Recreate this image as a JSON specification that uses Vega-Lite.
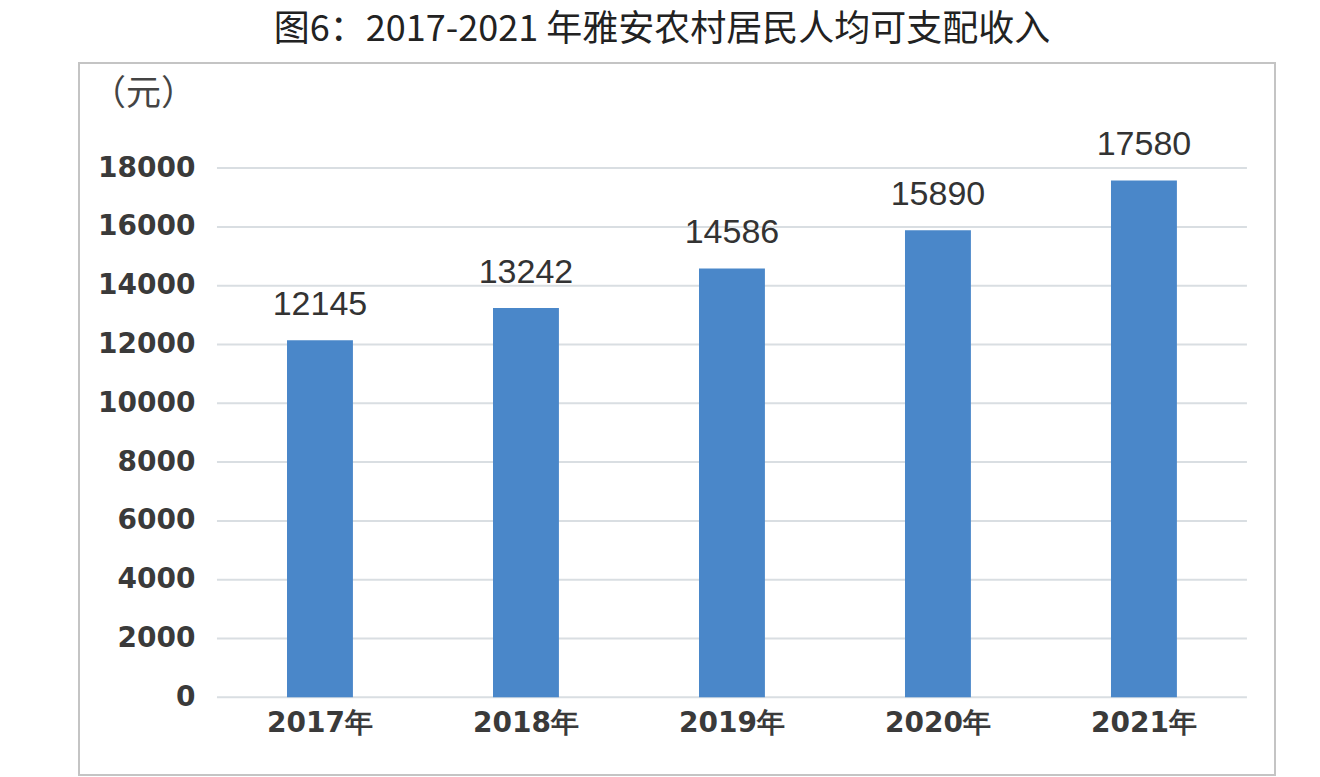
{
  "$schema": "https://vega.github.io/schema/vega-lite/v6.json",
  "width": 1196,
  "height": 712,
  "autosize": {"type": "none"},
  "padding": {"left": 79, "top": 63, "right": 45, "bottom": 2},
  "background": "white",
  "config": {"view": {"stroke": "#c4c4c4", "strokeWidth": 2}},
  "title": {
    "text": "图6：2017-2021 年雅安农村居民人均可支配收入",
    "font": "Noto Sans CJK SC",
    "fontSize": 36,
    "fontWeight": "normal",
    "color": "#222222",
    "anchor": "middle",
    "offset": 14,
    "dx": -15
  },
  "datasets": {
    "income": [
      {"year": "2017年", "value": 12145},
      {"year": "2018年", "value": 13242},
      {"year": "2019年", "value": 14586},
      {"year": "2020年", "value": 15890},
      {"year": "2021年", "value": 17580}
    ],
    "grid": [
      {"v": 0}, {"v": 2000}, {"v": 4000}, {"v": 6000}, {"v": 8000},
      {"v": 10000}, {"v": 12000}, {"v": 14000}, {"v": 16000}, {"v": 18000}
    ]
  },
  "layer": [
    {
      "data": {"name": "grid"},
      "mark": {"type": "rule", "color": "#d9dee2", "strokeWidth": 2},
      "encoding": {
        "y": {
          "field": "v",
          "type": "quantitative",
          "title": "（元）",
          "scale": {"domain": [-2643, 21575], "nice": false, "zero": false},
          "axis": {
            "orient": "left",
            "offset": -126,
            "grid": false,
            "domain": false,
            "ticks": false,
            "values": [0, 2000, 4000, 6000, 8000, 10000, 12000, 14000, 16000, 18000],
            "format": "d",
            "labelFont": "DejaVu Sans",
            "labelFontSize": 28,
            "labelFontWeight": "bold",
            "labelColor": "#3a3a3a",
            "labelPadding": 10,
            "title": "（元）",
            "titleAngle": 0,
            "titleX": -62,
            "titleY": 30,
            "titleAlign": "center",
            "titleBaseline": "middle",
            "titleFont": "Noto Sans CJK SC",
            "titleFontSize": 35,
            "titleFontWeight": "normal",
            "titleColor": "#444444"
          }
        },
        "x": {
          "datum": "2017年",
          "type": "nominal",
          "bandPosition": 0,
          "title": null,
          "scale": {
            "domain": ["2017年", "2018年", "2019年", "2020年", "2021年"],
            "paddingInner": 0,
            "paddingOuter": 0.403,
            "align": 0.831
          }
        },
        "x2": {"datum": "2021年", "bandPosition": 1}
      }
    },
    {
      "data": {"name": "income"},
      "mark": {"type": "bar", "color": "#4a87c9", "width": {"band": 0.32}},
      "encoding": {
        "x": {
          "field": "year",
          "type": "nominal",
          "title": null,
          "axis": {
            "orient": "bottom",
            "offset": -78,
            "bandPosition": 0.5,
            "domain": false,
            "ticks": false,
            "grid": false,
            "labelAngle": 0,
            "labelAlign": "center",
            "labelFont": "DejaVu Sans",
            "labelFontSize": 28,
            "labelFontWeight": "bold",
            "labelColor": "#3a3a3a",
            "labelPadding": 26,
            "title": null
          }
        },
        "y": {"field": "value", "type": "quantitative", "title": "（元）"}
      }
    },
    {
      "data": {"name": "income"},
      "mark": {
        "type": "text",
        "baseline": "alphabetic",
        "align": "center",
        "dy": -25,
        "font": "Liberation Sans",
        "fontSize": 34,
        "color": "#333333"
      },
      "encoding": {
        "x": {"field": "year", "type": "nominal", "title": null},
        "y": {"field": "value", "type": "quantitative", "title": "（元）"},
        "text": {"field": "value", "type": "quantitative", "format": "d"}
      }
    }
  ]
}
